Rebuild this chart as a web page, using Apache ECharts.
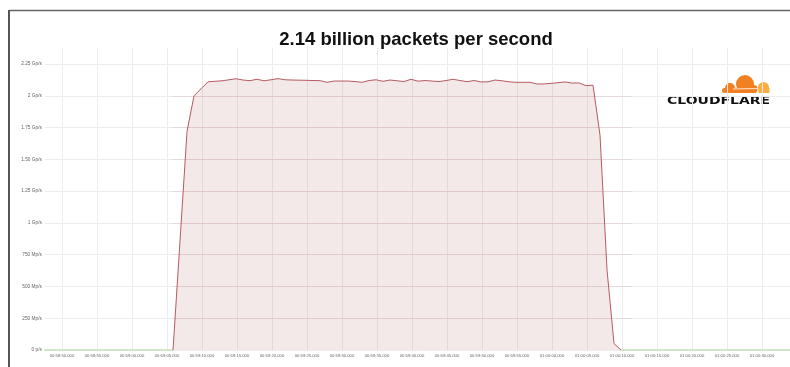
<!DOCTYPE html>
<html>
<head>
<meta charset="utf-8">
<script src="https://cdn.jsdelivr.net/npm/echarts@6/dist/echarts.min.js"></script>
<style>
html,body{margin:0;padding:0;background:#fff;}
#chart{width:790px;height:367px;}
</style>
</head>
<body>
<div id="chart"></div>
<script>
// Seconds after 00:58:50.000
var xTickValues = [0,5,10,15,20,25,30,35,40,45,50,55,60,65,70,75,80,85,90,95,100];
var xTickLabels = ['00:58:50.000','00:58:55.000','00:59:00.000','00:59:05.000','00:59:10.000','00:59:15.000','00:59:20.000','00:59:25.000','00:59:30.000','00:59:35.000','00:59:40.000','00:59:45.000','00:59:50.000','00:59:55.000','01:00:00.000','01:00:05.000','01:00:10.000','01:00:15.000','01:00:20.000','01:00:25.000','01:00:30.000'];
// Gp/s
var yTickValues = [0,0.25,0.5,0.75,1,1.25,1.5,1.75,2,2.25];
var yTickLabels = ['0 p/s','250 Mp/s','500 Mp/s','750 Mp/s','1 Gp/s','1.25 Gp/s','1.50 Gp/s','1.75 Gp/s','2 Gp/s','2.25 Gp/s'];

// attack samples, one per second, starting at 00:59:05.86
var attackStart = 15.86;
var attackValues = [0,0.86,1.72,2.00,2.055,
  2.110,2.114,2.118,2.126,2.134,2.124,2.119,2.130,2.118,2.126,
  2.135,2.126,2.124,2.123,2.122,2.120,2.119,2.106,2.116,2.116,
  2.116,2.112,2.106,2.120,2.126,2.114,2.124,2.118,2.112,2.130,
  2.115,2.120,2.116,2.112,2.120,2.130,2.120,2.111,2.120,2.109,
  2.110,2.124,2.118,2.110,2.106,2.106,2.106,2.093,2.093,2.098,
  2.103,2.109,2.100,2.101,2.080,2.083,
  1.69,0.63,0.05,0];
// idle (zero) baseline segments [time, value]
var idleBefore = [[-3,0],[15.86,0]];
var idleAfter = [[79.86,0],[106,0]];
// highlighted band (time range) on the grid lines
var bandStart = 15.7, bandEnd = 81.4;
var bandLevels = [0.25,0.5,0.75,1,1.25,1.5,1.75,2];

var attackData = attackValues.map(function(v,i){return [attackStart+i, v];});
var bandLines = bandLevels.map(function(y){return [{coord:[bandStart,y]},{coord:[bandEnd,y]}];});

var chart = echarts.init(document.getElementById('chart'), null, {renderer:'canvas'});
chart.setOption({
  animation:false,
  backgroundColor:'#ffffff',
  title:{
    text:'2.14 billion packets per second',
    left:411, top:25.5, textAlign:'center',
    textStyle:{fontFamily:'Liberation Sans',fontWeight:'bold',fontSize:18.5,color:'#111'}
  },
  grid:{left:45,right:0,top:48,bottom:17,containLabel:false},
  xAxis:{
    type:'value', min:-2.43, max:104,
    axisLine:{show:false},
    axisTick:{show:false, customValues:xTickValues},
    axisLabel:{customValues:xTickValues, fontSize:4.2, color:'#666', margin:4, fontFamily:'Liberation Sans',
      formatter:function(v){var i=xTickValues.indexOf(Math.round(v));return i>=0?xTickLabels[i]:'';}},
    splitLine:{show:true, lineStyle:{color:'#ececec',width:1}}
  },
  yAxis:{
    type:'value', min:0, max:2.376,
    axisLine:{show:false},
    axisTick:{show:false, customValues:yTickValues},
    axisLabel:{customValues:yTickValues, fontSize:4.8, color:'#666', margin:3, fontFamily:'Liberation Sans',
      formatter:function(v){for(var i=0;i<yTickValues.length;i++){if(Math.abs(yTickValues[i]-v)<1e-6)return yTickLabels[i];}return '';}},
    splitLine:{show:true, lineStyle:{color:'#ececec',width:1}}
  },
  series:[
    {type:'line', data:idleBefore, showSymbol:false, clip:false,
     lineStyle:{color:'#c6e0ba',width:1.5}, z:2},
    {type:'line', data:idleAfter, showSymbol:false, clip:false,
     lineStyle:{color:'#c6e0ba',width:1.5}, z:2},
    {type:'line', data:attackData, showSymbol:false,
     lineStyle:{color:'#b65a61',width:1},
     areaStyle:{color:'rgba(176,96,100,0.2)'}, z:3,
     markLine:{silent:true, symbol:'none', label:{show:false},
       lineStyle:{color:'rgba(190,120,125,0.15)',width:1,type:'solid'},
       data:bandLines}}
  ],
  graphic:[
    {type:'line', shape:{x1:9,y1:10.5,x2:790,y2:10.5}, style:{stroke:'#666',lineWidth:1.5}, z:100},
    {type:'line', shape:{x1:9,y1:10,x2:9,y2:367}, style:{stroke:'#555',lineWidth:2}, z:100},
    // Cloudflare logo
    {type:'group', z:100, children:[
      {type:'circle', shape:{cx:745,cy:84,r:9}, style:{fill:'#f38020'}},
      {type:'circle', shape:{cx:730,cy:88,r:5}, style:{fill:'#f38020'}},
      {type:'circle', shape:{cx:753.5,cy:89,r:4}, style:{fill:'#f38020'}},
      {type:'rect', shape:{x:722,y:88,width:34,height:5,r:[2.5,0,0,2.5]}, style:{fill:'#f38020'}},
      {type:'circle', shape:{cx:763.5,cy:87.5,r:5.5}, style:{fill:'#fbad41'}},
      {type:'rect', shape:{x:758.5,y:88,width:11,height:5}, style:{fill:'#fbad41'}},
      {type:'line', shape:{x1:733,y1:89,x2:757.5,y2:88.5}, style:{stroke:'#fff',lineWidth:0.8}},
      {type:'text', x:667, y:96, scaleX:1.27, style:{text:'CLOUDFLARE', fill:'#111', font:'bold 11px "DejaVu Sans"', verticalAlign:'top'}}
    ]}
  ]
});
</script>
</body>
</html>
